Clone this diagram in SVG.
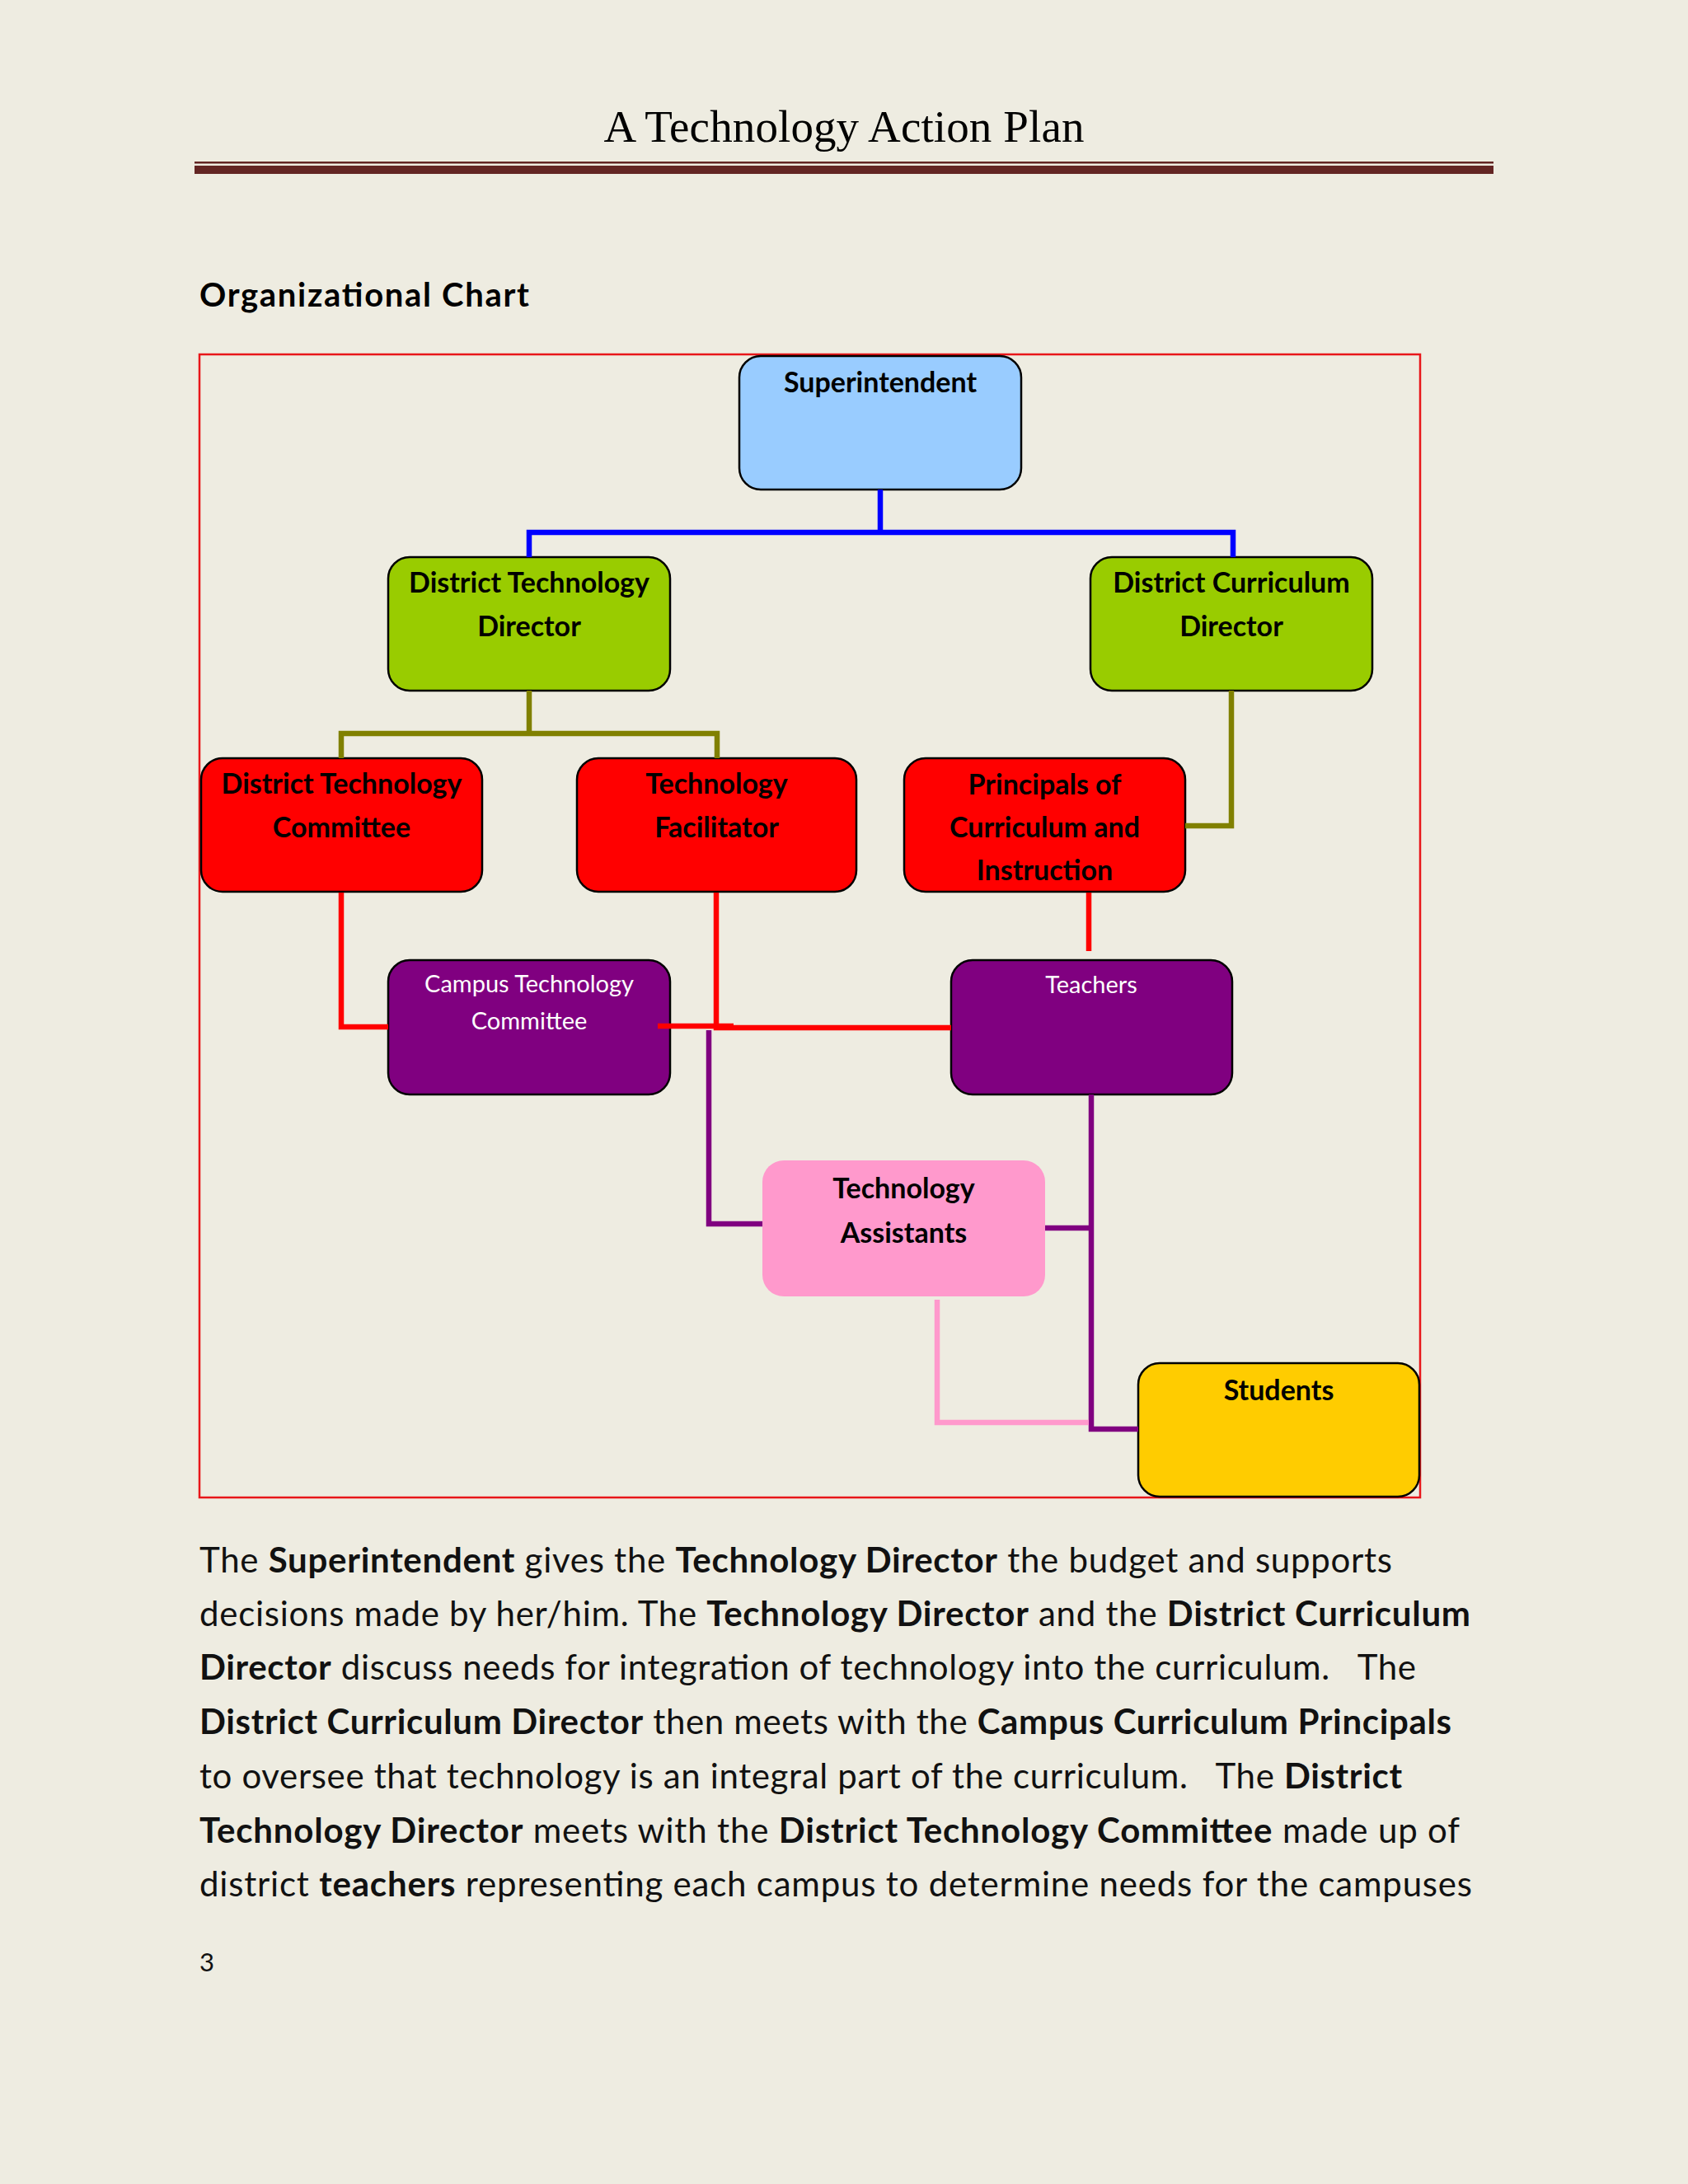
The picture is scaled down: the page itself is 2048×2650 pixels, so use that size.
<svg xmlns="http://www.w3.org/2000/svg" width="2048" height="2650" viewBox="0 0 2048 2650">
<style>
.lbl{font-family:Lato,"Open Sans","Liberation Sans",sans-serif;font-weight:bold;font-size:34px;fill:#000;text-anchor:middle}
.wlbl{font-family:Lato,"Open Sans","Liberation Sans",sans-serif;font-size:29px;fill:#fff;text-anchor:middle}
.box{stroke:#000;stroke-width:2.5}
.body{font-family:Lato,"Open Sans","Liberation Sans",sans-serif;font-size:42px;fill:#111;white-space:pre}
.b{font-weight:bold}
.conn{fill:none;stroke-width:6.5;stroke-linecap:butt;stroke-linejoin:miter}
</style>
<rect x="0" y="0" width="2048" height="2650" fill="#EEECE1"/>
<g id="header">
<text x="1024" y="172" font-family="'Liberation Serif','DejaVu Serif',serif" font-size="55" text-anchor="middle" textLength="583" fill="#000">A Technology Action Plan</text>
<rect x="236" y="196" width="1576" height="2.5" fill="#632523"/>
<rect x="236" y="201" width="1576" height="10" fill="#632523"/>
<text x="242" y="372" font-family="Lato,'Open Sans','Liberation Sans',sans-serif" font-weight="bold" font-size="40" textLength="400" fill="#000">Organizational Chart</text>
</g>
<rect id="frame" x="242" y="430" width="1481" height="1387" fill="none" stroke="#e8161a" stroke-width="2.5"/>
<g id="superintendent">
<rect class="box" x="897" y="432" width="342" height="162" rx="26" fill="#99CCFF"/>
<text class="lbl" x="1068" y="476">Superintendent</text>
</g>
<g id="district-technology-director">
<rect class="box" x="471" y="676" width="342" height="162" rx="26" fill="#99CC00"/>
<text class="lbl" x="642" y="719">District Technology</text>
<text class="lbl" x="642" y="772">Director</text>
</g>
<g id="district-curriculum-director">
<rect class="box" x="1323" y="676" width="342" height="162" rx="26" fill="#99CC00"/>
<text class="lbl" x="1494" y="719">District Curriculum</text>
<text class="lbl" x="1494" y="772">Director</text>
</g>
<g id="district-technology-committee">
<rect class="box" x="244" y="920" width="341" height="162" rx="26" fill="#FF0000"/>
<text class="lbl" x="414.5" y="963">District Technology</text>
<text class="lbl" x="414.5" y="1016">Committee</text>
</g>
<g id="technology-facilitator">
<rect class="box" x="700" y="920" width="339" height="162" rx="26" fill="#FF0000"/>
<text class="lbl" x="869.5" y="963">Technology</text>
<text class="lbl" x="869.5" y="1016">Facilitator</text>
</g>
<g id="principals">
<rect class="box" x="1097" y="920" width="341" height="162" rx="26" fill="#FF0000"/>
<text class="lbl" x="1267.5" y="964">Principals of</text>
<text class="lbl" x="1267.5" y="1016">Curriculum and</text>
<text class="lbl" x="1267.5" y="1068">Instruction</text>
</g>
<g id="campus-technology-committee">
<rect class="box" x="471" y="1165" width="342" height="163" rx="26" fill="#800080"/>
<text class="wlbl" x="642" y="1204">Campus Technology</text>
<text class="wlbl" x="642" y="1249">Committee</text>
</g>
<g id="teachers">
<rect class="box" x="1154" y="1165" width="341" height="163" rx="26" fill="#800080"/>
<text class="wlbl" x="1324" y="1205">Teachers</text>
</g>
<g id="technology-assistants">
<rect x="925" y="1408" width="343" height="165" rx="26" fill="#FF99CC"/>
<text class="lbl" x="1096.5" y="1454">Technology</text>
<text class="lbl" x="1096.5" y="1508">Assistants</text>
</g>
<g id="students">
<rect class="box" x="1381" y="1654" width="341" height="162" rx="26" fill="#FFCC00"/>
<text class="lbl" x="1551.5" y="1699">Students</text>
</g>
<g id="connectors">
<path class="conn" stroke="#0000FF" stroke-width="7" d="M1068,594 V646 M642,676 V646 H1496 V676"/>
<path class="conn" stroke="#808000" d="M642,838 V890 M414,920 V890 H870 V920 M1494,838 V1002 H1438"/>
<path class="conn" stroke="#800080" d="M860,1250 V1485 H925 M1324,1328 V1734 H1381 M1268,1490 H1324"/>
<path class="conn" stroke="#FF99CC" d="M1137,1577 V1726 H1321"/>
<path class="conn" stroke="#FF0000" d="M414,1083 V1246 H471 M869,1083 V1247 H1154 M798,1245 H890 M1321,1083 V1154"/>
</g>
<g id="body-text">
<text class="body" x="242" y="1908" textLength="1447">The <tspan class="b">Superintendent</tspan> gives the <tspan class="b">Technology Director</tspan> the budget and supports</text>
<text class="body" x="242" y="1973" textLength="1542">decisions made by her/him. The <tspan class="b">Technology Director</tspan> and the <tspan class="b">District Curriculum</tspan></text>
<text class="body" x="242" y="2038" textLength="1476"><tspan class="b">Director</tspan> discuss needs for integration of technology into the curriculum.   The</text>
<text class="body" x="242" y="2104" textLength="1519"><tspan class="b">District Curriculum Director</tspan> then meets with the <tspan class="b">Campus Curriculum Principals</tspan></text>
<text class="body" x="242" y="2170" textLength="1459">to oversee that technology is an integral part of the curriculum.   The <tspan class="b">District</tspan></text>
<text class="body" x="242" y="2236" textLength="1529"><tspan class="b">Technology Director</tspan> meets with the <tspan class="b">District Technology Committee</tspan> made up of</text>
<text class="body" x="242" y="2301" textLength="1544">district <tspan class="b">teachers</tspan> representing each campus to determine needs for the campuses</text>
<text x="242" y="2392" font-family="Lato,'Open Sans','Liberation Sans',sans-serif" font-size="31" fill="#111">3</text>
</g>
</svg>
